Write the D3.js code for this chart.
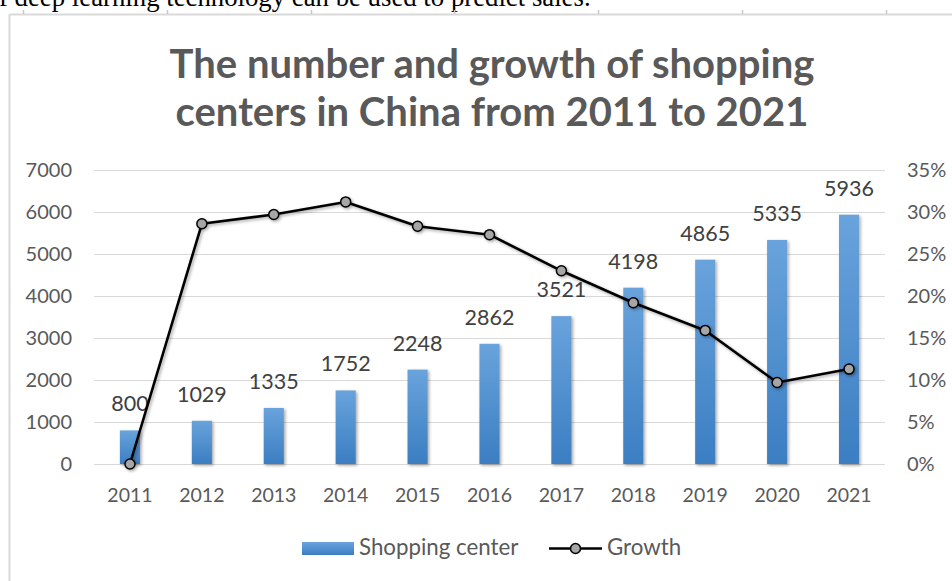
<!DOCTYPE html>
<html><head><meta charset="utf-8">
<script src="https://cdn.jsdelivr.net/npm/d3@7"></script>
<style>html,body{margin:0;padding:0;background:#fff;overflow:hidden}</style>
</head><body>
<svg id="c" width="952" height="581"></svg>
<script>
const years = ["2011","2012","2013","2014","2015","2016","2017","2018","2019","2020","2021"];
const shoppingCenters = [800,1029,1335,1752,2248,2862,3521,4198,4865,5335,5936];
const growthPct = [0,28.6,29.7,31.2,28.3,27.3,23.0,19.2,15.9,9.7,11.3];
const leftTicks = [0,1000,2000,3000,4000,5000,6000,7000];
const rightTicks = [0,5,10,15,20,25,30,35];
const titleLines = ["The number and growth of shopping","centers in China from 2011 to 2021"];
const seriesNames = ["Shopping center","Growth"];
const topText = "f deep learning technology can be used to predict sales.";

const svg = d3.select("#c");
const FONT = "Lato, 'Open Sans', sans-serif";
const defs = svg.append("defs");
const grad = defs.append("linearGradient").attr("id","barGrad").attr("x1",0).attr("y1",0).attr("x2",0).attr("y2",1);
grad.append("stop").attr("offset","0%").attr("stop-color","#69a3dc");
grad.append("stop").attr("offset","100%").attr("stop-color","#3b7ec2");
const sh = defs.append("filter").attr("id","shadow").attr("x","-50%").attr("y","-20%").attr("width","200%").attr("height","140%");
sh.append("feDropShadow").attr("dx",1.5).attr("dy",1.5).attr("stdDeviation",1.5).attr("flood-color","#000").attr("flood-opacity",0.35);

// page text above the chart (cut off at top, as in the reference)
const tt = svg.append("text").attr("x",-1).attr("y",6).attr("font-family","'Liberation Serif', 'DejaVu Serif', serif")
  .attr("font-size",22).attr("fill","#000").text(topText);
{ const w = tt.node().getComputedTextLength(); tt.attr("font-size", 22*592/w); }

// frame (ruler-like)
const frameCol = "#d9d9d9";
svg.append("line").attr("x1",9.5).attr("x2",952).attr("y1",14.5).attr("y2",14.5).attr("stroke",frameCol).attr("stroke-width",2);
svg.append("line").attr("x1",9.5).attr("x2",9.5).attr("y1",14).attr("y2",581).attr("stroke",frameCol).attr("stroke-width",2);
[23,167,311,454,598,742,886].forEach(x=>{
  svg.append("line").attr("x1",x+0.5).attr("x2",x+0.5).attr("y1",10).attr("y2",14).attr("stroke","#c8c8c8").attr("stroke-width",1.5);
});

// title
const tg = svg.append("g");
const titleBase=[78,126];
titleLines.forEach((t,i)=>{
  tg.append("text").attr("x",492).attr("y",titleBase[i]).attr("text-anchor","middle")
    .attr("font-family",FONT).attr("font-weight","bold").attr("font-size",38).attr("fill","#595959").text(t);
});
{ const w = tg.select("text").node().getComputedTextLength(); tg.selectAll("text").attr("font-size",38*645/w); }

// scales
const x = d3.scaleBand().domain(years).range([94,885]).padding(0);
const yL = d3.scaleLinear().domain([0,7000]).range([464,170]);
const yR = d3.scaleLinear().domain([0,35]).range([464,170]);
const barW = x.bandwidth()*0.28;

// gridlines
svg.append("g").selectAll("line").data(leftTicks).join("line")
  .attr("x1",94).attr("x2",885).attr("y1",d=>Math.round(yL(d))+0.5).attr("y2",d=>Math.round(yL(d))+0.5)
  .attr("stroke","#d9d9d9").attr("stroke-width",1);

// axes
const axL = svg.append("g").attr("transform","translate(94,0)")
  .call(d3.axisLeft(yL).tickValues(leftTicks).tickSize(0).tickPadding(22).tickFormat(d3.format("d")));
const axR = svg.append("g").attr("transform","translate(885,0)")
  .call(d3.axisRight(yR).tickValues(rightTicks).tickSize(0).tickPadding(22).tickFormat(d=>d+"%"));
const axB = svg.append("g").attr("transform","translate(0,464)")
  .call(d3.axisBottom(x).tickSize(0).tickPadding(24));
[axL,axR,axB].forEach(a=>{
  a.select(".domain").remove();
  a.selectAll("text").attr("font-family",FONT).attr("font-size",20).attr("fill","#595959");
});
axB.selectAll("text").attr("font-size",19.5);

// bars
svg.append("g").attr("filter","url(#shadow)").selectAll("rect").data(shoppingCenters).join("rect")
  .attr("x",(d,i)=>x(years[i])+x.bandwidth()/2-barW/2).attr("width",barW)
  .attr("y",d=>yL(d)).attr("height",d=>yL(0)-yL(d)).attr("fill","url(#barGrad)");

// bar labels
svg.append("g").selectAll("text").data(shoppingCenters).join("text")
  .attr("x",(d,i)=>x(years[i])+x.bandwidth()/2).attr("y",d=>yL(d)-19)
  .attr("text-anchor","middle").attr("font-family",FONT).attr("font-size",21.5).attr("fill","#404040").text(d=>d);

// line
const line = d3.line().x((d,i)=>x(years[i])+x.bandwidth()/2).y(d=>yR(d));
const lg = svg.append("g").attr("filter","url(#shadow)");
lg.append("path").datum(growthPct).attr("d",line).attr("fill","none").attr("stroke","#000").attr("stroke-width",2.6).attr("stroke-linejoin","round");
lg.selectAll("circle").data(growthPct).join("circle")
  .attr("cx",(d,i)=>x(years[i])+x.bandwidth()/2).attr("cy",d=>yR(d)).attr("r",5)
  .attr("fill","#a6a6a6").attr("stroke","#000").attr("stroke-width",1.5);

// legend
const leg = svg.append("g");
leg.append("rect").attr("x",302).attr("y",542).attr("width",52).attr("height",13).attr("fill","url(#barGrad)");
leg.append("text").attr("x",359).attr("y",555).attr("font-family",FONT).attr("font-size",22.3).attr("fill","#595959").text(seriesNames[0]);
leg.append("line").attr("x1",549).attr("x2",602).attr("y1",548.5).attr("y2",548.5).attr("stroke","#000").attr("stroke-width",2.6);
leg.append("circle").attr("cx",575.5).attr("cy",548.5).attr("r",5).attr("fill","#a6a6a6").attr("stroke","#000").attr("stroke-width",1.5);
leg.append("text").attr("x",607).attr("y",555).attr("font-family",FONT).attr("font-size",22.3).attr("fill","#595959").text(seriesNames[1]);
</script>
</body></html>
